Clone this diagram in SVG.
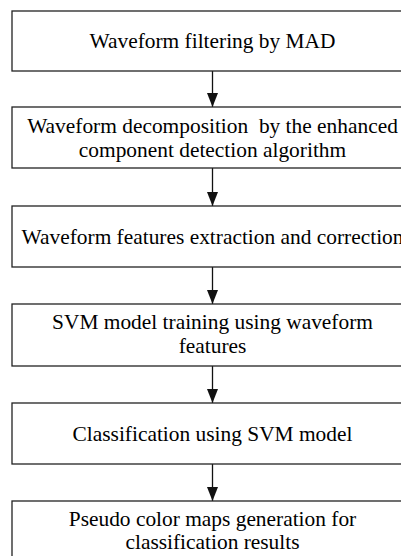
<svg xmlns="http://www.w3.org/2000/svg" width="401" height="556" viewBox="0 0 401 556">
<style>
.box{fill:#fff;stroke:#222;stroke-width:1.3}
.lbl{font-family:'Liberation Serif','Times New Roman',serif;font-size:21.4px;fill:#000;text-anchor:middle}
.conn{stroke:#111;stroke-width:1.3;fill:none}
</style>
<defs>
<marker id="arr" markerUnits="userSpaceOnUse" markerWidth="14" markerHeight="12" refX="14" refY="5.5" orient="auto" viewBox="0 0 14 11">
<path d="M0,0 L14,5.5 L0,11 Z" fill="#111"/>
</marker>
</defs>
<rect width="401" height="556" fill="#fff"/>
<g id="connectors">
<line class="conn" x1="212.5" y1="71" x2="212.5" y2="107" marker-end="url(#arr)"/>
<line class="conn" x1="212.5" y1="168" x2="212.5" y2="206" marker-end="url(#arr)"/>
<line class="conn" x1="212.5" y1="267" x2="212.5" y2="304" marker-end="url(#arr)"/>
<line class="conn" x1="212.5" y1="366" x2="212.5" y2="403" marker-end="url(#arr)"/>
<line class="conn" x1="212.5" y1="464" x2="212.5" y2="501" marker-end="url(#arr)"/>
</g>
<g id="n1">
<rect class="box" x="12" y="11" width="401" height="60"/>
<text class="lbl" x="212.5" y="48">Waveform filtering by MAD</text>
</g>
<g id="n2">
<rect class="box" x="12" y="107" width="401" height="61"/>
<text class="lbl" x="212.5" y="133" xml:space="preserve">Waveform decomposition  by the enhanced</text>
<text class="lbl" x="212.5" y="157">component detection algorithm</text>
</g>
<g id="n3">
<rect class="box" x="12" y="206" width="401" height="61"/>
<text class="lbl" x="212.5" y="243.5">Waveform features extraction and correction</text>
</g>
<g id="n4">
<rect class="box" x="12" y="304" width="401" height="62"/>
<text class="lbl" x="212.5" y="329">SVM model training using waveform</text>
<text class="lbl" x="212.5" y="353">features</text>
</g>
<g id="n5">
<rect class="box" x="12" y="403" width="401" height="61"/>
<text class="lbl" x="212.5" y="440.5">Classification using SVM model</text>
</g>
<g id="n6">
<rect class="box" x="12" y="501" width="401" height="61"/>
<text class="lbl" x="212.5" y="525.5">Pseudo color maps generation for</text>
<text class="lbl" x="212.5" y="549">classification results</text>
</g>
</svg>
